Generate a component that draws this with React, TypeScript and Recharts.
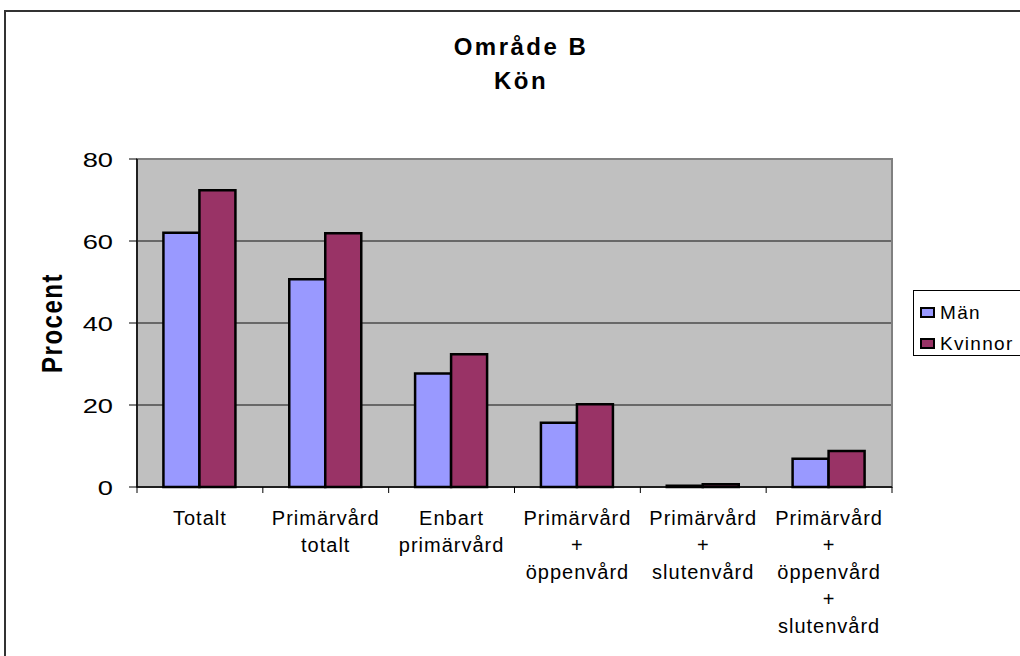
import React from "react";
import { Bar, BarChart, CartesianGrid, Legend, ReferenceArea, XAxis, YAxis } from "recharts";

const categories = [
  "Totalt",
  "Primärvård\ntotalt",
  "Enbart\nprimärvård",
  "Primärvård\n+\nöppenvård",
  "Primärvård\n+\nslutenvård",
  "Primärvård\n+\nöppenvård\n+\nslutenvård",
];
const manValues = [62, 50.7, 27.7, 15.7, 0.3, 6.9];
const kvinnorValues = [72.4, 61.9, 32.4, 20.2, 0.65, 8.8];
const seriesNames = ["Män", "Kvinnor"];
const seriesColors = ["#9999FF", "#993366"];
const yTicks = [0, 20, 40, 60, 80];
const titleLines = ["Område B", "Kön"];
const yLabel = "Procent";

const data = categories.map((name, i) => ({
  name,
  man: manValues[i],
  kvinnor: kvinnorValues[i],
}));

const font = '"Liberation Sans", Arial, Helvetica, sans-serif';

function XTick(props: any) {
  const { x, y, payload, index } = props;
  const half = payload?.offset ?? 0;
  const lines = String(payload.value).split("\n");
  const isLast = index === categories.length - 1;
  return (
    <g>
      <line x1={x - half} x2={x - half} y1={y - 6} y2={y} stroke="#000" strokeWidth={1} />
      {isLast && <line x1={x + half} x2={x + half} y1={y - 6} y2={y} stroke="#000" strokeWidth={1} />}
      <text x={x} y={y + 32} textAnchor="middle" fontSize={20} fontFamily={font} letterSpacing={1} fill="#000">
        {lines.map((line, i) => (
          <tspan key={i} x={x} dy={i === 0 ? 0 : 27}>
            {line}
          </tspan>
        ))}
      </text>
    </g>
  );
}

function YTick(props: any) {
  const { x, y, payload } = props;
  return (
    <text
      transform={`translate(${x},${y}) scale(1.3,1)`}
      textAnchor="end"
      dy="0.36em"
      fontSize={21}
      fontFamily={font}
      fill="#000"
    >
      {payload.value}
    </text>
  );
}

function LegendBox(props: any) {
  const items = [...(props.payload ?? [])].sort(
    (a: any, b: any) => seriesNames.indexOf(a.value) - seriesNames.indexOf(b.value)
  );
  return (
    <div
      style={{
        border: "1px solid #000",
        background: "#fff",
        height: 66,
        boxSizing: "border-box",
        paddingTop: 6,
        fontFamily: font,
      }}
    >
      {items.map((item: any) => (
        <div key={item.value} style={{ display: "flex", alignItems: "center", height: 31, paddingLeft: 6 }}>
          <span
            style={{
              display: "inline-block",
              width: 11,
              height: 7,
              background: item.color,
              border: "2px solid #000",
              marginRight: 5,
            }}
          />
          <span style={{ fontSize: 19, letterSpacing: 1.3, color: "#000" }}>{item.value}</span>
        </div>
      ))}
    </div>
  );
}

export default function App() {
  return (
    <div style={{ position: "absolute", left: 0, top: 0, width: 1020, height: 656, background: "#fff", overflow: "hidden" }}>
      <div
        style={{
          position: "absolute",
          left: 4,
          top: 10,
          width: 1030,
          height: 660,
          border: "2px solid #333",
          boxSizing: "border-box",
        }}
      />
      <BarChart
        width={1020}
        height={656}
        data={data}
        margin={{ top: 159, right: 128, left: 77, bottom: 29 }}
        barCategoryGap="21%"
        barGap={0}
      >
        <CartesianGrid vertical={false} fill="#C0C0C0" fillOpacity={1} stroke="#111" strokeWidth={1.2} />
        <ReferenceArea y1={0} y2={80} fill="none" fillOpacity={0} stroke="#808080" strokeWidth={2} />
        <XAxis
          dataKey="name"
          height={140}
          interval={0}
          tickLine={false}
          tickSize={6}
          tickMargin={0}
          axisLine={{ stroke: "#000", strokeWidth: 1.5 }}
          tick={<XTick />}
        />
        <YAxis
          width={60}
          domain={[0, 80]}
          ticks={yTicks}
          interval={0}
          tickSize={8}
          tickMargin={16}
          axisLine={{ stroke: "#000", strokeWidth: 1.5 }}
          tickLine={{ stroke: "#000", strokeWidth: 1 }}
          tick={<YTick />}
        />
        <Legend
          layout="vertical"
          align="center"
          verticalAlign="middle"
          wrapperStyle={{ left: 913, top: 290, width: 120 }}
          content={<LegendBox />}
        />
        <Bar dataKey="man" name={seriesNames[0]} fill={seriesColors[0]} stroke="#000" strokeWidth={2.5} isAnimationActive={false} />
        <Bar dataKey="kvinnor" name={seriesNames[1]} fill={seriesColors[1]} stroke="#000" strokeWidth={2.5} isAnimationActive={false} />
      </BarChart>
      <div
        style={{
          position: "absolute",
          left: 421,
          top: 30,
          width: 200,
          textAlign: "center",
          fontFamily: font,
          fontWeight: "bold",
          fontSize: 24,
          lineHeight: "34px",
          letterSpacing: 2.5,
          color: "#000",
        }}
      >
        {titleLines.map((t) => (
          <div key={t}>{t}</div>
        ))}
      </div>
      <div
        style={{
          position: "absolute",
          left: 52 - 100,
          top: 323 - 15,
          width: 200,
          height: 30,
          lineHeight: "30px",
          textAlign: "center",
          fontFamily: font,
          fontWeight: "bold",
          fontSize: 24,
          letterSpacing: 1.5,
          color: "#000",
          transform: "rotate(-90deg) scaleY(1.2)",
          whiteSpace: "nowrap",
        }}
      >
        {yLabel}
      </div>
    </div>
  );
}
